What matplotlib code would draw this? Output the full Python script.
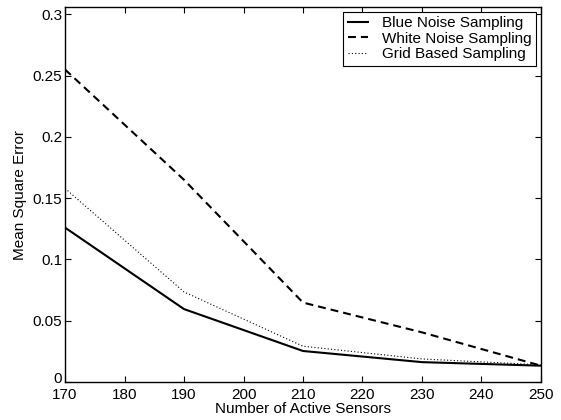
import matplotlib
matplotlib.use("Agg")
import matplotlib.pyplot as plt
from matplotlib.transforms import ScaledTranslation

# data
sensors = [170, 190, 210, 230, 250]
blue_noise = [0.126, 0.0595, 0.0253, 0.0162, 0.0133]
white_noise = [0.255, 0.165, 0.0648, 0.0405, 0.0133]
grid_based = [0.158, 0.0735, 0.0292, 0.0188, 0.0140]

x_ticks = [170, 180, 190, 200, 210, 220, 230, 240, 250]
y_ticks = [0, 0.05, 0.1, 0.15, 0.2, 0.25, 0.3]
y_tick_labels = ["0", "0.05", "0.1", "0.15", "0.2", "0.25", "0.3"]

plt.rcParams["font.family"] = ["Liberation Sans", "DejaVu Sans"]
plt.rcParams["font.size"] = 11

fig = plt.figure(figsize=(5.61, 4.2), dpi=100)
ax = fig.add_axes([0.1159, 0.0905, 0.8484, 0.8928])

ax.plot(sensors, blue_noise, color="black", linestyle="-", linewidth=1.5,
        label="Blue Noise Sampling")
ax.plot(sensors, white_noise, color="black", linestyle=(0, (3.8, 2.4)), linewidth=1.5,
        label="White Noise Sampling")
ax.plot(sensors, grid_based, color="black", linestyle=(0, (1, 2)), linewidth=0.8,
        label="Grid Based Sampling")

ax.set_xlim(170, 250)
ax.set_ylim(0, 0.306)
ax.set_xticks(x_ticks)
ax.set_yticks(y_ticks)
ax.set_yticklabels(y_tick_labels)
ax.tick_params(direction="in", top=True, right=True, length=4, width=0.8, pad=2)
ax.tick_params(axis="x", pad=4)
for sp in ax.spines.values():
    sp.set_linewidth(1.0)

# lift the "0" a little so it sits above the "170", as in the original
zero_lbl = ax.get_yticklabels()[0]
zero_lbl.set_transform(zero_lbl.get_transform() + ScaledTranslation(0, 3 / 72, fig.dpi_scale_trans))

ax.set_xlabel("Number of Active Sensors", labelpad=0)
ax.set_ylabel("Mean Square Error", labelpad=4)

leg = ax.legend(loc="upper right", fancybox=False, edgecolor="black", framealpha=1,
                borderaxespad=0.3, handlelength=1.35, handletextpad=0.9,
                borderpad=0.3, labelspacing=0.1)
leg.get_frame().set_linewidth(0.8)

fig.savefig("out.png", dpi=100)
